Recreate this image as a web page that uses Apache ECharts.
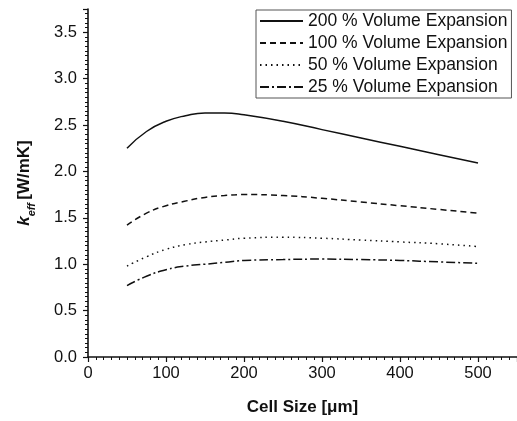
<!DOCTYPE html>
<html>
<head>
<meta charset="utf-8">
<script src="https://cdn.jsdelivr.net/npm/echarts@6/dist/echarts.min.js"></script>
<style>html,body{margin:0;padding:0;background:#fff}#c{width:517px;height:421px}</style>
</head>
<body>
<div id="c"></div>
<script>
const cellSize = [50, 75, 100, 125, 150, 175, 200, 250, 300, 350, 400, 450, 500];
const exp200 = [2.25, 2.43, 2.54, 2.60, 2.63, 2.63, 2.61, 2.54, 2.45, 2.36, 2.27, 2.18, 2.09];
const exp100 = [1.42, 1.55, 1.63, 1.68, 1.72, 1.74, 1.75, 1.74, 1.71, 1.67, 1.63, 1.59, 1.55];
const exp50  = [0.98, 1.08, 1.16, 1.21, 1.24, 1.26, 1.28, 1.29, 1.28, 1.26, 1.24, 1.22, 1.19];
const exp25  = [0.77, 0.87, 0.94, 0.98, 1.00, 1.02, 1.04, 1.05, 1.055, 1.05, 1.04, 1.025, 1.01];
const seriesNames = ['200 % Volume Expansion', '100 % Volume Expansion', '50 % Volume Expansion', '25 % Volume Expansion'];
const xTicks = [0, 100, 200, 300, 400, 500];
const yTicks = [0.0, 0.5, 1.0, 1.5, 2.0, 2.5, 3.0, 3.5];

const FONT = 'Liberation Sans, Arial, sans-serif';
const INK = '#111';
function pair(vals) { return cellSize.map((x, i) => [x, vals[i]]); }
const dashes = ['solid', [6, 4], [1.5, 4], [9, 3, 2, 3]];
const allVals = [exp200, exp100, exp50, exp25];

const chart = echarts.init(document.getElementById('c'), null, {renderer: 'canvas'});
chart.setOption({
  animation: false,
  backgroundColor: '#fff',
  textStyle: {fontFamily: FONT},
  grid: {left: 88, top: 9, right: -4.5, bottom: 60.5, containLabel: false},
  legend: {
    orient: 'vertical', left: 256, top: 10,
    backgroundColor: '#fff', borderColor: '#555', borderWidth: 1,
    padding: [2, 4, 2, 3], itemGap: 4, itemWidth: 43, itemHeight: 18,
    itemStyle: {opacity: 0},
    textStyle: {fontFamily: FONT, fontSize: 17.5, color: INK},
    data: seriesNames
  },
  xAxis: {
    type: 'value', min: 0, max: 550, interval: 100,
    name: 'Cell Size [\u03bcm]', nameLocation: 'middle', nameGap: 42,
    nameTextStyle: {fontFamily: FONT, fontSize: 17, fontWeight: 'bold', color: INK},
    axisLine: {show: true, onZero: false, lineStyle: {color: INK, width: 1.6}},
    axisTick: {show: true, inside: false, length: 5, lineStyle: {color: INK, width: 1.2}},
    minorTick: {show: true, splitNumber: 10, length: 3, lineStyle: {color: INK, width: 1}},
    axisLabel: {fontFamily: FONT, fontSize: 16.5, color: INK, margin: 8, showMaxLabel: false,
      formatter: v => xTicks.includes(v) ? String(v) : ''},
    splitLine: {show: false}
  },
  yAxis: {
    type: 'value', min: 0, max: 3.75, interval: 0.5,
    name: '{k|k}{sub|eff} {u|[W/mK]}', nameLocation: 'middle', nameGap: 55,
    nameTextStyle: {
      fontFamily: FONT, color: INK,
      rich: {
        k: {fontFamily: FONT, fontSize: 17, fontWeight: 'bold', fontStyle: 'italic', color: INK, verticalAlign: 'bottom'},
        sub: {fontFamily: FONT, fontSize: 11, fontWeight: 'bold', fontStyle: 'italic', color: INK, verticalAlign: 'bottom', padding: [0, 0, -4, 0]},
        u: {fontFamily: FONT, fontSize: 17, fontWeight: 'bold', color: INK, verticalAlign: 'bottom'}
      }
    },
    axisLine: {show: true, lineStyle: {color: INK, width: 1.6}},
    axisTick: {show: true, inside: false, length: 5, lineStyle: {color: INK, width: 1.2}},
    minorTick: {show: true, splitNumber: 10, length: 3, lineStyle: {color: INK, width: 1}},
    axisLabel: {fontFamily: FONT, fontSize: 16.5, color: INK, margin: 11, showMaxLabel: false,
      formatter: v => yTicks.some(t => Math.abs(t - v) < 1e-9) ? v.toFixed(1) : ''},
    splitLine: {show: false}
  },
  series: seriesNames.map((n, i) => ({
    name: n, type: 'line', smooth: 0.5, symbol: 'none', showSymbol: false,
    data: pair(allVals[i]),
    lineStyle: {color: INK, width: 1.5, type: dashes[i]},
    itemStyle: {color: INK}
  }))
});
</script>
</body>
</html>
